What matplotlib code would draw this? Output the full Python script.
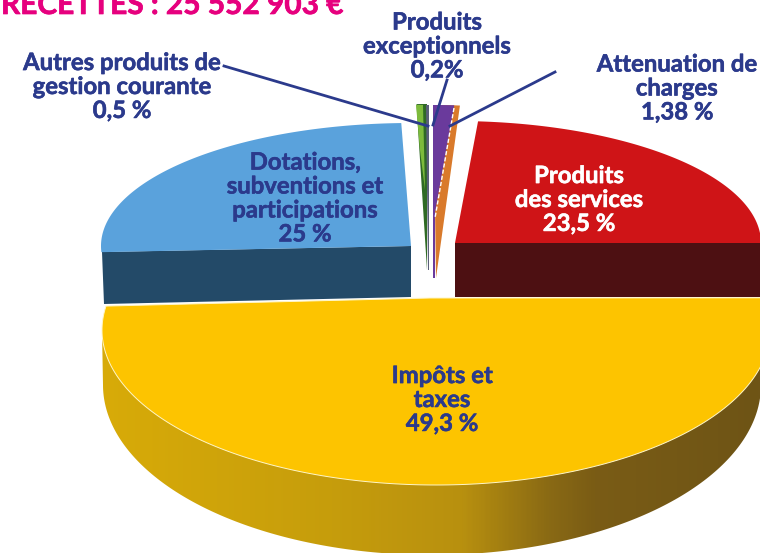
import numpy as np
import matplotlib
matplotlib.use("Agg")
import matplotlib.pyplot as plt
import matplotlib.patheffects as pe
from matplotlib.colors import LinearSegmentedColormap
from matplotlib.patches import Polygon

plt.rcParams['font.family'] = ['Lato', 'DejaVu Sans']

# Labels and the percentages printed on the chart
title = "RECETTES : 25 552 903 €"
names = ["Impôts et\ntaxes", "Produits\ndes services", "Attenuation de\ncharges",
         "Produits\nexceptionnels", "Autres produits de\ngestion courante",
         "Dotations,\nsubventions et\nparticipations"]
percent_labels = ["49,3 %", "23,5 %", "1,38 %", "0,2%", "0,5 %", "25 %"]

# Share of the circle each slice really takes up in the drawing (read off the picture,
# the thin slices are not to scale in the original)
drawn_shares = [55.8, 23.8, 1.38, 1.1, 0.55, 25.3]
start_angles = [12, 0, 85.5, 86, 90, 91.8]

navy = "#2b3a8c"
top_colors = ["#fdc400", "#cf1417", "#d97a2b", "#6a3a9c", "#2f6a24", "#5aa2dc"]

# apex x, apex y, ellipse centre x, centre y, rx, ry
slice_geom = [
    (430, 298, 436, 330, 334, 155),
    (455, 243, 455, 243, 306, 122),
    (436, 278, 436, 278, 305, 173),
    (434, 218, 433, 218, 305, 113),
    (427, 270, 427, 270, 305, 166),
    (411, 246, 411, 246, 310, 123),
]


def arc(cx, cy, rx, ry, a0, a1, n=200):
    t = np.radians(np.linspace(a0, a1, n))
    return np.column_stack([cx + rx * np.cos(t), cy - ry * np.sin(t)])


def slice_points(i):
    ax_, ay_, cx, cy, rx, ry = slice_geom[i]
    sweep = drawn_shares[i] * 3.6
    a0 = start_angles[i]
    # the big slice runs clockwise through the bottom, the others counter clockwise
    a1 = a0 - sweep if i == 0 else a0 + sweep
    return np.vstack([[ax_, ay_], arc(cx, cy, rx, ry, a0, a1)])


fig = plt.figure(figsize=(7.6, 5.53), dpi=100)
ax = fig.add_axes([0, 0, 1, 1])

# Side of the big slice, with the left to right gradient
side = np.vstack([[[102, 330]], arc(432, 385, 329, 170, 180, 360), [[770, 330]]])
side_cmap = LinearSegmentedColormap.from_list(
    "side", [(0, "#d8ab08"), (0.35, "#c69d0c"), (0.55, "#b8900f"), (0.68, "#8a6a14"),
             (0.75, "#7a5c15"), (1, "#6e5416")])
grad = ax.imshow(np.linspace(0, 1, 400).reshape(1, -1), extent=(100, 760, 560, 320),
                 cmap=side_cmap, aspect='auto', zorder=1)
side_patch = Polygon(side, closed=True, transform=ax.transData, fc='none', ec='none')
ax.add_patch(side_patch)
grad.set_clip_path(side_patch)

# Cut faces of the two exploded slices
ax.add_patch(Polygon([(455, 243), (455, 297), (762, 297), (762, 243)], fc="#4d1012", ec='none', zorder=2))
ax.add_patch(Polygon([(411, 246), (411, 297), (104, 304), (102, 252)], fc="#234a68", ec='none', zorder=2))

# Top faces
for i in range(len(drawn_shares)):
    edge = "#fff6c8" if i == 0 else 'none'
    ax.add_patch(Polygon(slice_points(i), closed=True, fc=top_colors[i], ec=edge, lw=0.7, zorder=3))

# Lighter green on the thin slice, grey and purple strips next to it
ax.add_patch(Polygon([(416, 105), (423, 105), (425, 190), (420, 150)], fc="#7dbb3c", ec='none', zorder=4))
ax.add_patch(Polygon([(426, 105), (428.5, 105), (428.5, 270), (427.5, 270)], fc="#5a5f78", ec='none', zorder=4))
ax.add_patch(Polygon([(433, 105), (435, 105), (435, 278), (433, 278)], fc="#6a3a9c", ec='none', zorder=4))
ax.plot([454, 435], [108, 218], color='white', lw=1, ls=(0, (3, 1.5)), zorder=4)

# Leader lines
ax.plot([224, 428], [66, 126], color=navy, lw=2, zorder=5)
ax.plot([433, 447], [125, 80], color=navy, lw=2, zorder=5)
ax.plot([450, 555], [126, 72], color=navy, lw=2, zorder=5)

# Title is cut by the top of the image in the original
ax.text(1, 14, title, color="#e6007e", fontsize=21.5, fontweight='bold', ha='left', va='baseline',
        path_effects=[pe.withStroke(linewidth=0.5, foreground="#e6007e")])

label_pos = [(442, 399.5), (579, 199.5), (677, 88), (437, 46), (122, 86.5), (305, 198)]
label_colors = [navy, 'white', navy, navy, navy, navy]
for i, (x, y) in enumerate(label_pos):
    ax.text(x, y, names[i] + "\n" + percent_labels[i], color=label_colors[i], fontsize=17.2,
            fontweight='bold', ha='center', va='center', linespacing=1.05, zorder=6,
            path_effects=[pe.withStroke(linewidth=0.4, foreground=label_colors[i])])

ax.set_xlim(0, 760)
ax.set_ylim(553, 0)
ax.axis('off')

plt.savefig("out.png", dpi=100)
